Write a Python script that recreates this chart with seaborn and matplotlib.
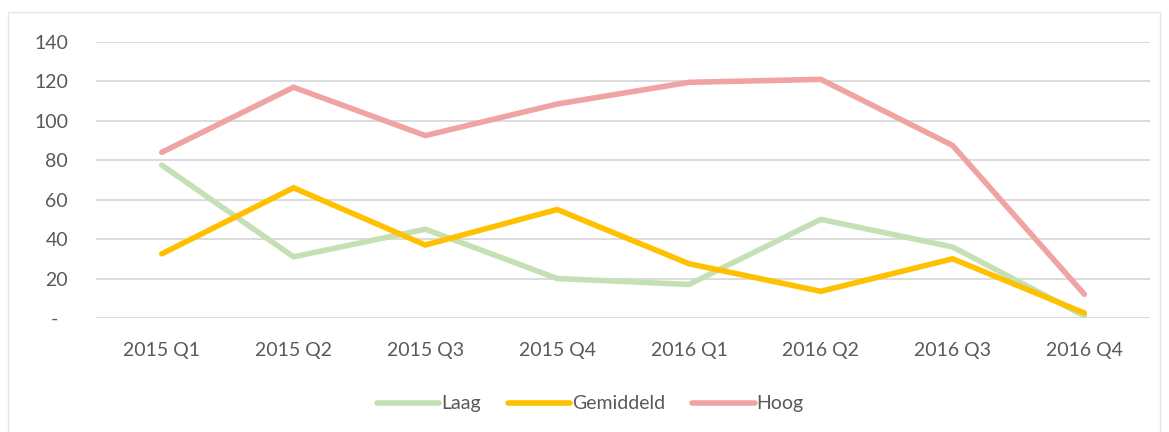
import numpy as np
import pandas as pd
import matplotlib
matplotlib.use("Agg")
import matplotlib.pyplot as plt
import seaborn as sns
from matplotlib.patches import Rectangle

# --- Data ---
quarters = ["2015 Q1", "2015 Q2", "2015 Q3", "2015 Q4",
            "2016 Q1", "2016 Q2", "2016 Q3", "2016 Q4"]
laag = [77.5, 31, 45, 20, 17, 50, 36, 1]
gemiddeld = [32.5, 66, 37, 55, 27.5, 13.5, 30, 2.5]
hoog = [84, 117, 92.5, 108.5, 119.5, 121, 87.5, 12]
series_names = ["Laag", "Gemiddeld", "Hoog"]
colors = ["#c5e0b4", "#ffc000", "#f0a3a3"]
yticks = [0, 20, 40, 60, 80, 100, 120, 140]
ytick_labels = ["-\u00a0\u00a0", "20", "40", "60", "80", "100", "120", "140"]

df = pd.DataFrame({"kwartaal": quarters, "Laag": laag,
                   "Gemiddeld": gemiddeld, "Hoog": hoog})
long_df = df.melt(id_vars="kwartaal", var_name="serie", value_name="waarde")

sns.set_style("white")
plt.rcParams["font.family"] = ["Lato", "DejaVu Sans"]
text_color = "#595959"

fig = plt.figure(figsize=(11.69, 4.32), dpi=100)
ax = fig.add_axes([0.082, 0.264, 0.902, 0.639])

sns.lineplot(data=long_df, x="kwartaal", y="waarde", hue="serie",
             hue_order=series_names, palette=colors, linewidth=4,
             sort=False, ax=ax, legend=False)
for line in ax.lines:
    line.set_solid_capstyle("round")
    line.set_solid_joinstyle("miter")

ax.set_xlim(-0.5, len(quarters) - 0.5)
ax.set_ylim(0, 140)
ax.set_yticks(yticks)
ax.set_yticklabels(ytick_labels)
ax.yaxis.grid(True, color="#d9d9d9", linewidth=1.3)
ax.set_axisbelow(True)
for s in ax.spines.values():
    s.set_visible(False)
ax.set_xlabel("")
ax.set_ylabel("")
ax.tick_params(axis="both", length=0, labelsize=14, colors=text_color)
ax.tick_params(axis="x", pad=17)
ax.tick_params(axis="y", pad=20)
for lbl in ax.get_yticklabels():
    lbl.set_horizontalalignment("right")

# legend
handles = [plt.Line2D([0], [0], color=c, lw=4, solid_capstyle="round")
           for c in colors]
fig.legend(handles, series_names, loc="center", bbox_to_anchor=(0.505, 0.065),
           ncol=3, frameon=False, fontsize=14, labelcolor=text_color,
           handlelength=3.2, handletextpad=0.1, columnspacing=1.4)

# chart border
fig.patches.append(Rectangle((8 / 1169, -0.01), 1152 / 1169, 1 - 12 / 432 + 0.01,
                             transform=fig.transFigure, fill=False,
                             edgecolor="#e6e6e6", linewidth=1.0))

fig.savefig("out.png", dpi=100, facecolor="white")
